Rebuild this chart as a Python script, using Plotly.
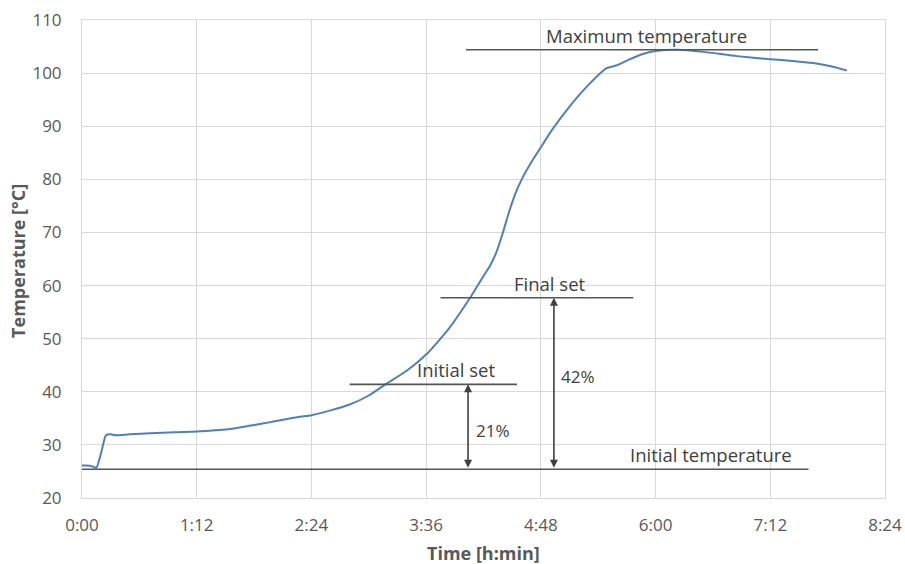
import plotly.graph_objects as go

# Time in minutes, temperature in °C
minutes = [0, 3, 6, 9, 12, 15, 18, 21, 30, 43, 58, 72, 86, 93, 105, 115, 127, 137, 144,
           156, 168, 180, 190, 204, 217, 230, 244, 252, 256, 260, 264, 268, 272, 276, 282,
           289, 295, 306, 317, 329, 336, 343, 352, 361, 374, 390, 411, 432, 446, 459, 470, 480]
temps = [26.1, 26.1, 26.0, 25.7, 28.5, 31.8, 32.0, 31.8, 32.0, 32.2, 32.4, 32.5, 32.8, 33.0,
         33.6, 34.1, 34.8, 35.3, 35.6, 36.5, 37.6, 39.3, 41.3, 44.0, 47.3, 51.8, 57.9, 61.8,
         63.7, 66.2, 69.8, 73.8, 77.3, 80.0, 83.2, 86.5, 89.3, 93.7, 97.5, 100.9, 101.5,
         102.5, 103.6, 104.2, 104.4, 104.0, 103.2, 102.6, 102.3, 101.9, 101.3, 100.5]

tick_vals = [0, 72, 144, 216, 288, 360, 432, 504]
tick_text = ["0:00", "1:12", "2:24", "3:36", "4:48", "6:00", "7:12", "8:24"]

# Reference levels: label, level (°C), start (min), end (min), label x (min)
ref_labels = ["Maximum temperature", "Final set", "Initial set", "Initial temperature"]
ref_levels = [104.4, 57.7, 41.4, 25.4]
ref_start = [241, 225, 168, 0]
ref_end = [462, 346, 273, 456]
ref_label_x = [354, 294, 235, 395]

# Percent arrows: label, x position (min), top level (°C), label x
pct_labels = ["21%", "42%"]
pct_x = [242.3, 296.2]
pct_top = [41.4, 57.7]
pct_label_x = [258, 311]
pct_label_y = [32.8, 42.8]

FONT = "'Open Sans', Lato, sans-serif"

fig = go.Figure()
fig.add_trace(go.Scatter(x=minutes, y=temps, mode="lines",
                         line=dict(color="#4f7fbf", width=2, shape="spline", smoothing=0.5),
                         showlegend=False))

ann = []
for lab, lv, s, e, lx in zip(ref_labels, ref_levels, ref_start, ref_end, ref_label_x):
    fig.add_trace(go.Scatter(x=[s, e], y=[lv, lv], mode="lines",
                             line=dict(color="#555555", width=1.6), showlegend=False,
                             hoverinfo="skip"))
    ann.append(dict(x=lx, y=lv, text=lab, showarrow=False, yanchor="bottom",
                    yshift=0, font=dict(size=18.5, color="#404040", family=FONT)))

base = ref_levels[3]
for lab, x, top, lx, ly in zip(pct_labels, pct_x, pct_top, pct_label_x, pct_label_y):
    ann.append(dict(x=x, y=top, ax=x, ay=base, xref="x", yref="y", axref="x", ayref="y",
                    text="", showarrow=True, arrowhead=2, startarrowhead=2,
                    arrowside="end+start", arrowsize=1, arrowwidth=1.6,
                    arrowcolor="#404040", standoff=0, startstandoff=0))
    ann.append(dict(x=lx, y=ly, text=lab, showarrow=False,
                    font=dict(size=17, color="#404040", family=FONT)))

# Axis titles
ann.append(dict(x=-0.0797, y=0.496, xref="paper", yref="paper", text="<b>Temperature [°C]</b>",
                textangle=-90, showarrow=False, xanchor="center", yanchor="middle",
                font=dict(size=18, color="#595959", family=FONT)))
ann.append(dict(x=0.5, y=-0.115, xref="paper", yref="paper", text="<b>Time [h:min]</b>",
                showarrow=False, xanchor="center", yanchor="middle",
                font=dict(size=18, color="#595959", family=FONT)))

fig.update_layout(
    width=905, height=564,
    margin=dict(l=82, r=20, t=20, b=66),
    paper_bgcolor="white", plot_bgcolor="white",
    font=dict(family=FONT, color="#595959", size=17),
    annotations=ann,
    xaxis=dict(range=[0, 504], tickvals=tick_vals, ticktext=tick_text,
               showgrid=True, gridcolor="#d9d9d9", gridwidth=1,
               showline=True, linecolor="#d9d9d9", mirror=True,
               zeroline=False, ticks="", ticklabelstandoff=12, automargin=False),
    yaxis=dict(range=[20, 110], dtick=10, showgrid=True, gridcolor="#d9d9d9",
               gridwidth=1, showline=True, linecolor="#d9d9d9", mirror=True,
               zeroline=False, ticks="", ticklabelstandoff=16, automargin=False),
)

fig.write_html("out.html")
